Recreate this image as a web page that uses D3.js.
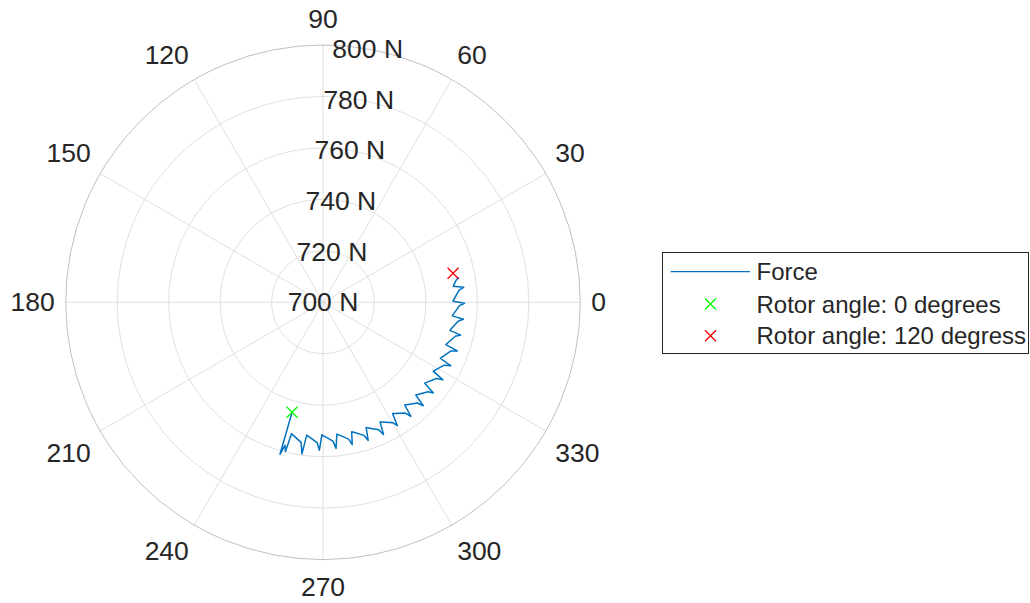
<!DOCTYPE html>
<html>
<head>
	<meta charset="utf-8">
	<script src="https://d3js.org/d3.v7.min.js"></script>
	<title>Polar force</title>
	<style>
		body { margin: 0; background: #fff; }
		text { font-family: "Liberation Sans", Arial, sans-serif; fill: #262626; }
	</style>
</head>
<body>
	<div id="chart"></div>

	<script type="text/javascript">

		// data: [theta (deg), force (N)]
		var forceData = [
			[254.3,744.4],[254.2,761.4],[255.1,757.5],[255.9,759.8],
			[256.5,752.5],[257.3,752.9],[261.1,755.1],[262.1,759.5],
			[263,752],[263.8,752.4],[267.6,754.6],[268.6,757.5],
			[269.5,751.5],[270.3,751.9],[274.1,754.1],[275.1,757],
			[276,751.5],[276.8,751.9],[280.6,754.1],[281.6,756.5],
			[282.5,751.5],[283.3,751.9],[287.1,754.1],[288.1,756.5],
			[289,751.5],[289.8,751.9],[293.6,754.1],[294.6,756.5],
			[295.5,751.5],[296.3,751.9],[300.1,754.1],[301.1,756],
			[302,751],[302.8,751.4],[306.6,753.6],[307.6,756],
			[308.5,751],[309.3,751.4],[313.1,753.6],[314.1,756],
			[315,751],[315.8,751.4],[319.6,753.6],[320.6,755.5],
			[321.5,750.5],[322.3,750.9],[326.1,753.1],[327.1,755.5],
			[328,750.5],[328.8,750.9],[332.6,753.1],[333.6,755.5],
			[334.5,750.5],[335.3,750.9],[339.1,753.1],[340.1,755.5],
			[341,750.5],[341.8,750.9],[345.6,753.1],[346.6,755],
			[347.5,750.5],[348.3,750.9],[352.1,753.1],[353.1,755],
			[354,750.5],[354.8,750.9],[358.6,753.1],[359.6,755],
			[360.5,750.5],[361.3,750.9],[365.1,753.1],[366.1,755],
			[367,751],[367.8,751.4],[369.6,752.6],[370.4,753.7]
		];
		var startPoint = [254.3, 744.4];   // rotor angle 0
		var endPoint = [12.6, 751.8];      // rotor angle 120

		var rTicks = [700, 720, 740, 760, 780, 800];
		var thetaTicks = [0, 30, 60, 90, 120, 150, 180, 210, 240, 270, 300, 330];
		var legendLabels = ["Force", "Rotor angle: 0 degrees", "Rotor angle: 120 degress"];

		var width = 1030, height = 603;
		var cx = 323, cy = 302.3, R = 257.3;
		var fontSize = 26.5;
		var legendFont = 24;

		var svg = d3.select("#chart").append("svg")
			.attr("width", width)
			.attr("height", height);

		var rScale = d3.scaleLinear().domain([700, 800]).range([0, R]);
		var rad = function(deg){ return deg * Math.PI / 180; };
		var px = function(t, r){ return cx + r * Math.cos(rad(t)); };
		var py = function(t, r){ return cy - r * Math.sin(rad(t)); };

		var g = svg.append("g");

		// spokes
		g.selectAll(".spoke").data(thetaTicks).enter().append("line")
			.attr("x1", cx).attr("y1", cy)
			.attr("x2", function(d){ return px(d, R); })
			.attr("y2", function(d){ return py(d, R); })
			.attr("stroke", "#e0e0e0").attr("stroke-width", 1);

		// rings
		g.selectAll(".ring").data(rTicks.slice(1, -1)).enter().append("circle")
			.attr("cx", cx).attr("cy", cy)
			.attr("r", function(d){ return rScale(d); })
			.attr("fill", "none").attr("stroke", "#e0e0e0").attr("stroke-width", 1);

		// outer circle
		g.append("circle")
			.attr("cx", cx).attr("cy", cy).attr("r", rScale(800))
			.attr("fill", "none").attr("stroke", "#c0c0c0").attr("stroke-width", 1);

		// theta labels
		var gap = 11, halfH = fontSize * 0.575;
		g.selectAll(".tlab").data(thetaTicks).enter().append("text")
			.attr("x", function(d){ return px(d, R + gap); })
			.attr("y", function(d){
				var s = Math.sin(rad(d));
				var y = py(d, R + gap);
				if (s > 0.01) return y - halfH;
				if (s < -0.01) return y + halfH + 1.5;
				return y;
			})
			.attr("text-anchor", function(d){
				var c = Math.cos(rad(d));
				if (c > 0.01) return "start";
				if (c < -0.01) return "end";
				return "middle";
			})
			.attr("dominant-baseline", "central")
			.attr("font-size", fontSize)
			.text(function(d){ return d; });

		// r labels at 80 degrees
		g.selectAll(".rlab").data(rTicks).enter().append("text")
			.attr("x", function(d){ return px(80, rScale(d)); })
			.attr("y", function(d){ return py(80, rScale(d)); })
			.attr("text-anchor", "middle")
			.attr("dominant-baseline", "central")
			.attr("font-size", fontSize)
			.text(function(d){ return d + " N"; });

		// force line
		var line = d3.lineRadial()
			.angle(function(d){ return rad(90 - d[0]); })
			.radius(function(d){ return rScale(d[1]); });

		g.append("path")
			.datum(forceData)
			.attr("transform", "translate(" + cx + "," + cy + ")")
			.attr("d", line)
			.attr("fill", "none")
			.attr("stroke", "#0072bd")
			.attr("stroke-width", 1.5)
			.attr("stroke-linejoin", "round");

		function drawCross(sel, x, y, s, color){
			sel.append("path")
				.attr("d", "M" + (x - s) + "," + (y - s) + "L" + (x + s) + "," + (y + s) +
					"M" + (x - s) + "," + (y + s) + "L" + (x + s) + "," + (y - s))
				.attr("stroke", color).attr("stroke-width", 1.3).attr("fill", "none");
		}

		drawCross(g, px(startPoint[0], rScale(startPoint[1])), py(startPoint[0], rScale(startPoint[1])), 5.5, "#00ff00");
		drawCross(g, px(endPoint[0], rScale(endPoint[1])), py(endPoint[0], rScale(endPoint[1])), 5.5, "#ff0000");

		// legend
		var lg = svg.append("g");
		lg.append("rect")
			.attr("x", 662.5).attr("y", 252.5)
			.attr("width", 366).attr("height", 101)
			.attr("fill", "#fff").attr("stroke", "#262626").attr("stroke-width", 1);

		var rowY = [271.7, 304, 335.7];
		lg.append("line")
			.attr("x1", 670.7).attr("x2", 750)
			.attr("y1", rowY[0]).attr("y2", rowY[0])
			.attr("stroke", "#0072bd").attr("stroke-width", 1.3);
		drawCross(lg, 710.5, rowY[1], 5.5, "#00ff00");
		drawCross(lg, 710.5, rowY[2], 5.5, "#ff0000");

		lg.selectAll(".ltext").data(legendLabels).enter().append("text")
			.attr("x", 756.5)
			.attr("y", function(d, i){ return rowY[i]; })
			.attr("dominant-baseline", "central")
			.attr("font-size", legendFont)
			.text(function(d){ return d; });

	</script>
</body>
</html>
